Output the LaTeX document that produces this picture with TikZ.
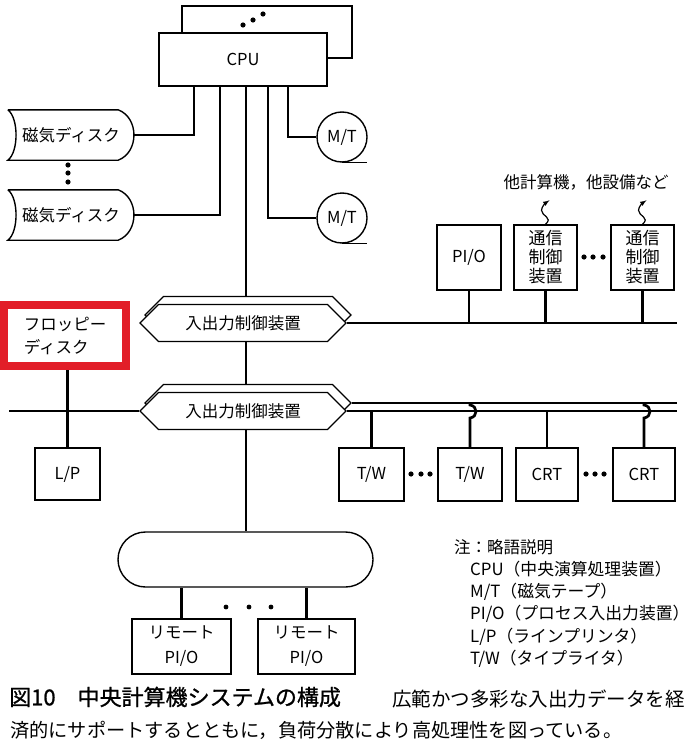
\documentclass[tikz,border=0pt]{standalone}
\usepackage{fontspec}
\setmainfont{Noto Sans CJK JP}
\usetikzlibrary{arrows,shapes.symbols,shapes.misc,fit}
\definecolor{markred}{RGB}{226,30,40}

\begin{document}
\begin{tikzpicture}[x=1pt,y=-1pt,
  every node/.style={inner sep=0pt,font=\fontsize{16.5pt}{20pt}\selectfont},
  unit/.style={draw,fill=white,line width=1.4pt,align=center},
  wire/.style={line width=2.7pt},
  disk/.style={minimum width=126pt,minimum height=50pt},
  tape/.style={circle,draw,line width=1.4pt,minimum size=50pt},
  ioc/.style={signal,signal to=west and east,draw,fill=white,line width=1.4pt,minimum width=206pt,minimum height=37pt}]
\useasboundingbox (0,0) rectangle (690,752);

\node[unit,minimum width=170pt,minimum height=52pt] (cpub) at (267,32) {};
\node[unit,minimum width=168pt,minimum height=53pt] (cpu) at (243,59.5) {CPU};
\foreach \p in {(243,25),(253,20),(263,14)} \fill \p circle (2.6pt);

\node[disk] (disk1) at (71,135) {磁気ディスク};
\node[disk] (disk2) at (71,215) {磁気ディスク};
\foreach \d in {disk1,disk2}
  \draw[line width=1.4pt] (\d.north west) -- ([xshift=-16pt]\d.north east)
    .. controls +(21,8) and +(21,-8) .. ([xshift=-16pt]\d.south east) -- (\d.south west)
    .. controls +(11,-8) and +(11,8) .. (\d.north west);
\foreach \y in {165,173,182} \fill (68,\y) circle (2.6pt);

\node[tape] (mt1) at (342,137) {M/T};
\node[tape] (mt2) at (342,218) {M/T};
\foreach \t in {mt1,mt2} \draw[line width=1.4pt] (\t.south) -- ++(25,0);

\draw[wire] (disk1.east) -| ([xshift=-49pt]cpu.south);
\draw[wire] (disk2.east) -| ([xshift=-23pt]cpu.south);
\draw[wire] (mt1.west) -| ([xshift=45pt]cpu.south);
\draw[wire] (mt2.west) -| ([xshift=25pt]cpu.south);

\node[ioc] (io1b) at (248,315) {};
\node[ioc] (io1) at (243,323) {入出力制御装置};
\node[ioc] (io2b) at (248,403) {};
\node[ioc] (io2) at (243,411) {入出力制御装置};
\node[rounded rectangle,draw,line width=1.4pt,minimum width=255pt,minimum height=55pt] (link) at (245.5,559.5) {};

\coordinate (trunk) at (246,0);
\path[wire]
  (cpu.south -| trunk) edge (io1b.north -| trunk)
  (io1.south -| trunk) edge (io2b.north -| trunk)
  (io2.south -| trunk) edge (link.north -| trunk);

\node (others) at (586,182) {他計算機，他設備など};
\node[unit,minimum width=64pt,minimum height=65pt] (pio) at (469,257.5) {PI/O};
\node[unit,minimum width=63pt,minimum height=65pt,font=\fontsize{17pt}{19pt}\selectfont] (tsu1) at (545.5,257.5) {通信\\制御\\装置};
\node[unit,minimum width=63pt,minimum height=65pt,font=\fontsize{17pt}{19pt}\selectfont] (tsu2) at (642.5,257.5) {通信\\制御\\装置};
\foreach \x in {584,593,603} \fill (\x,257) circle (2.6pt);
\foreach \n in {tsu1,tsu2}
  \draw[line width=1.2pt,-latex] (\n.north) .. controls +(8,-7) and +(0,6) .. ++(-4,-14)
    .. controls +(0,-4) and +(-3,2) .. ++(8,-10);

\coordinate (busA) at (677,323);
\draw[wire] (io1.east) -- (busA);
\path[wire]
  (pio.south) edge (pio.south |- busA)
  (tsu1.south) edge (tsu1.south |- busA)
  (tsu2.south) edge (tsu2.south |- busA);

\node[fill=white,minimum width=114pt,minimum height=53pt,align=left,font=\fontsize{16.5pt}{23pt}\selectfont] (floppy) at (65,335.5) {フロッピー\\ディスク};
\node[unit,minimum width=65pt,minimum height=52pt] (lp) at (67.5,474) {L/P};
\coordinate (busL) at (9,411);
\draw[wire] (busL) -- (io2.west);
\draw[wire] (floppy.south -| lp.north) -- (lp.north);
\node[draw=markred,line width=8pt,fit=(floppy),inner sep=4pt] (mark) {};

\node[unit,minimum width=65pt,minimum height=53pt] (tw1) at (371.5,474.5) {T/W};
\node[unit,minimum width=64pt,minimum height=53pt] (tw2) at (470,474.5) {T/W};
\node[unit,minimum width=62pt,minimum height=53pt] (crt1) at (547,474.5) {CRT};
\node[unit,minimum width=62pt,minimum height=53pt] (crt2) at (644,474.5) {CRT};
\foreach \x in {411,421,430,586,595,604} \fill (\x,474) circle (2.6pt);

\coordinate (busH) at (677,403);
\coordinate (busG) at (677,411);
\draw[wire] (io2b.east) -- (busH);
\draw[wire] (io2.east) -- (busG);
\foreach \n in {tw1,crt1} \draw[wire] (\n.north) -- (\n.north |- busG);
\foreach \n in {tw2,crt2}
  \draw[wire] (\n.north |- busH) -- ++(0,2) .. controls +(8,1) and +(8,-1) .. ++(0,13) -- (\n.north);

\node[unit,minimum width=99pt,minimum height=55pt,font=\fontsize{16.5pt}{25pt}\selectfont] (rem1) at (181.5,646.5) {リモート\\PI/O};
\node[unit,minimum width=97pt,minimum height=55pt,font=\fontsize{16.5pt}{25pt}\selectfont] (rem2) at (306.5,646.5) {リモート\\PI/O};
\path[wire]
  (rem1.north) edge (rem1.north |- link.south)
  (rem2.north) edge (rem2.north |- link.south);
\foreach \x in {226,249,271} \fill (\x,607) circle (2.4pt);

\node[anchor=west] (legend) at (454,547) {注：略語説明};
\foreach \s [count=\i] in {CPU（中央演算処理装置）,M/T（磁気テープ）,PI/O（プロセス入出力装置）,L/P（ラインプリンタ）,T/W（タイプライタ）}
  \node[anchor=west,font=\fontsize{16.8pt}{20pt}\selectfont] (legend\i) at (470,547+22.4*\i) {\s};

\node[anchor=west,font=\fontsize{22pt}{22pt}\selectfont\addfontfeature{FakeBold=1}] (title) at (9,697) {図10\hspace{22pt}中央計算機システムの構成};
\node[anchor=west,font=\fontsize{19.5pt}{20pt}\selectfont] (cap1) at (392,699) {広範かつ多彩な入出力データを経};
\node[anchor=west,font=\fontsize{19.2pt}{20pt}\selectfont] (cap2) at (10,730) {済的にサポートするとともに，負荷分散により高処理性を図っている。};
\end{tikzpicture}
\end{document}
